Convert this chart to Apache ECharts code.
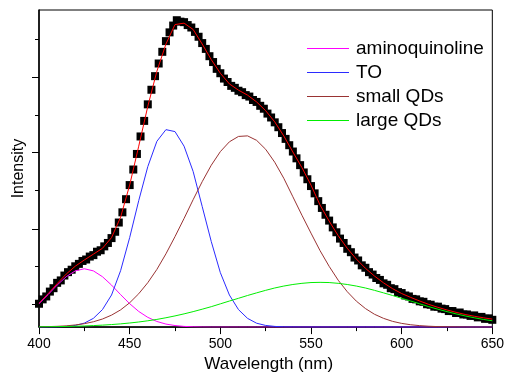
<!DOCTYPE html>
<html>
<head>
<meta charset="utf-8">
<script src="https://cdn.jsdelivr.net/npm/echarts@6/dist/echarts.min.js"></script>
<style>
html,body{margin:0;padding:0;background:#fff;}
#chart{width:507px;height:378px;}
</style>
</head>
<body>
<div id="chart"></div>
<script>
// Wavelength grid (nm) of the fitted components
var wavelength = [400,405,410,415,420,425,430,435,440,445,450,455,460,465,470,475,480,485,490,495,500,505,510,515,520,525,530,535,540,545,550,555,560,565,570,575,580,585,590,595,600,605,610,615,620,625,630,635,640,645,650];

var aminoquinoline = [24.1,33.4,43.2,51.8,57.8,60,57.8,51.8,43.2,33.4,24.1,16.1,10,5.8,3.1,1.6,0.7,0.3,0.1,0,0,0,0,0,0,0,0,0,0,0,0,0,0,0,0,0,0,0,0,0,0,0,0,0,0,0,0,0,0,0,0];

var TO = [0,0.1,0.2,0.7,1.7,4.1,9,18,33,58,92,130,165,191,203,201,186,160,124,88,56,33,18,9,4,1.7,0.7,0.2,0.1,0,0,0,0,0,0,0,0,0,0,0,0,0,0,0,0,0,0,0,0,0,0];

var smallQDs = [0.3,0.5,0.8,1.3,2.2,3.5,5.5,8.3,12.3,17.7,25,34.3,45.7,59.3,75.3,93,111.7,131,149.5,166.4,180.4,190.5,196,196.6,192,182.8,169.5,153,134,115,96.6,78.6,62.5,48.2,36.4,26.7,19.1,13.2,9,5.9,3.8,2.4,1.5,0.9,0.5,0.3,0.2,0.1,0,0,0];

var largeQDs = [0.25,0.35,0.48,0.66,0.88,1.17,1.55,2.02,2.61,3.33,4.2,5.25,6.5,7.9,9.6,11.5,13.6,15.9,18.4,21,23.9,26.8,29.6,32.5,35.2,37.8,40.2,42.2,43.8,45,45.8,46,45.8,45,43.8,42.2,40.2,37.8,35.2,32.5,29.6,26.8,23.9,21,18.4,15.9,13.6,11.5,9.6,7.9,6.5];

var fitTotal = [24.5,34.3,44.7,54.5,62.6,69,75,81,92,113,146,186,227,263,291,311,312.5,306,291,275,261,250,243.6,238.5,231.5,222.5,211,196.5,180,164,146,125.5,109,94,81,70,60.5,52.5,45.5,39.5,34.5,30.5,26.8,23.3,20.3,17.6,15.2,13,11.2,9.6,8.2];

// Measured spectrum: [wavelength nm, intensity]
var measured = [[400,24],[402,28.5],[404,31.5],[406,36.5],[408,40],[410,45.5],[412,48],[414,53],[416,56.5],[418,59],
[420,62.5],[422,65],[424,68],[426,69.5],[428,72.5],[430,74],[432,77.5],[434,79],[436,83],[438,86.5],
[440,91.5],[442,98],[444,107.5],[446,118],[448,131.5],[450,146],[452,162],[454,178],[456,196],[458,212],
[460,229],[462,244],[464,258],[466,271],[468,283],[470,294],[472,303],[474,310],[476,315.5],[478,314],
[480,313.5],[482,310.5],[484,308],[486,303.5],[488,298.5],[490,292],[492,286],[494,278.5],[496,272.5],[498,265.5],
[500,261],[502,255.5],[504,252],[506,248],[508,246],[510,243],[512,241.5],[514,238.5],[516,237],[518,233.5],
[520,231.5],[522,227.5],[524,224.5],[526,219.5],[528,215.5],[530,210.5],[532,205.5],[534,199.5],[536,193.5],[538,187],
[540,180.5],[542,173.5],[544,166.5],[546,159],[548,152],[550,145],[552,137.5],[554,129.5],[556,122.5],[558,115.5],
[560,109.5],[562,102.5],[564,97.5],[566,91],[568,86.5],[570,80.5],[572,77],[574,71.5],[576,68.5],[578,63.5],
[580,61],[582,56.5],[584,54],[586,50.5],[588,48.5],[590,45],[592,43.5],[594,40],[596,39],[598,36],
[600,35],[602,32.5],[604,31.5],[606,29],[608,28.5],[610,26.5],[612,26],[614,23.5],[616,23],[618,21],
[620,21],[622,19],[624,18.5],[626,16.5],[628,16.5],[630,14.5],[632,15],[634,13],[636,13],[638,11.5],
[640,12],[642,10],[644,10.5],[646,8.5],[648,9],[650,7.5]];

// Axis tick positions
var xTicks = {min: 400, max: 650, interval: 50};
var yMajorTicks = [23.7, 101, 179.3, 257];
var yMinorTicks = [62.7, 140.3, 218.3, 296];
var yMax = 326;

var legendNames = ['aminoquinoline', 'TO', 'small QDs', 'large QDs'];

function pairs(ys) { return wavelength.map(function (x, i) { return [x, ys[i]]; }); }

var FONT = '"Liberation Sans", Arial, sans-serif';
var chart = echarts.init(document.getElementById('chart'), null, {renderer: 'canvas'});

function lineSeries(name, ys, color) {
  return {
    name: name, type: 'line', data: pairs(ys), symbol: 'none', smooth: false,
    lineStyle: {color: color, width: 1}, itemStyle: {color: color},
    animation: false, z: 3
  };
}

chart.setOption({
  animation: false,
  backgroundColor: '#fff',
  grid: {left: 39, right: 10, top: 10, bottom: 42, show: true, borderColor: '#000', borderWidth: 1},
  legend: {
    data: legendNames,
    orient: 'vertical',
    left: 307, top: 39,
    padding: 0,
    icon: 'rect',
    itemWidth: 42, itemHeight: 1, itemGap: 5,
    textStyle: {fontSize: 19, fontFamily: FONT, color: '#000', lineHeight: 19, padding: [0, 0, 0, 2]}
  },
  xAxis: {
    type: 'value', min: xTicks.min, max: xTicks.max, interval: xTicks.interval,
    axisLine: {show: true, lineStyle: {color: '#000', width: 1.5}},
    axisTick: {show: true, length: 7, lineStyle: {color: '#000', width: 1}},
    minorTick: {show: true, splitNumber: 2, length: 4, lineStyle: {color: '#000', width: 1}},
    splitLine: {show: false},
    axisLabel: {fontSize: 14, fontFamily: FONT, color: '#000', margin: 10},
    name: 'Wavelength (nm)', nameLocation: 'middle', nameGap: 25,
    nameTextStyle: {fontSize: 17, fontFamily: FONT, color: '#000', padding: [0, 0, 0, 6]}
  },
  yAxis: [{
    type: 'value', min: 0, max: yMax, position: 'left',
    axisLine: {show: true, lineStyle: {color: '#000', width: 1.5}},
    axisTick: {show: true, length: 7, customValues: yMajorTicks, lineStyle: {color: '#000', width: 1}},
    axisLabel: {show: false},
    splitLine: {show: false},
    name: 'Intensity', nameLocation: 'middle', nameGap: 12,
    nameTextStyle: {fontSize: 16, fontFamily: FONT, color: '#000'}
  }, {
    type: 'value', min: 0, max: yMax, position: 'left', offset: 0,
    axisLine: {show: false},
    axisTick: {show: true, length: 4, customValues: yMinorTicks, lineStyle: {color: '#000', width: 1}},
    axisLabel: {show: false},
    splitLine: {show: false}
  }],
  series: [
    {
      name: 'data', type: 'scatter', data: measured, symbol: 'rect', symbolSize: 8,
      itemStyle: {color: '#000', opacity: 1}, emphasis: {disabled: true}, z: 1, animation: false
    },
    {
      name: 'fit', type: 'line', data: pairs(fitTotal), symbol: 'none',
      lineStyle: {color: '#ff0000', width: 1}, z: 2, animation: false
    },
    lineSeries('aminoquinoline', aminoquinoline, '#ff00ff'),
    lineSeries('TO', TO, '#2b2bff'),
    lineSeries('small QDs', smallQDs, '#993333'),
    lineSeries('large QDs', largeQDs, '#00ee00')
  ]
});
</script>
</body>
</html>
